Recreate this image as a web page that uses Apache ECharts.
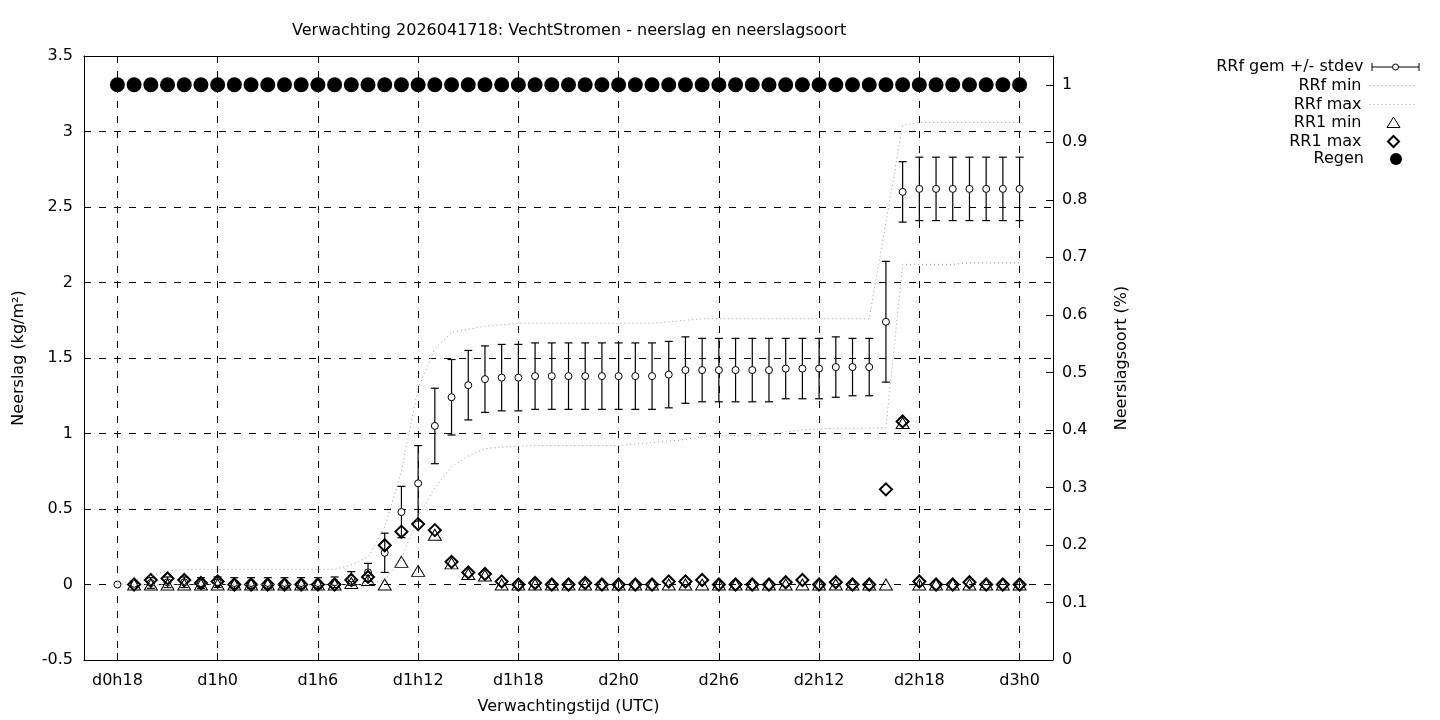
<!DOCTYPE html>
<html><head><meta charset="utf-8">
<script src="https://cdn.jsdelivr.net/npm/echarts@6/dist/echarts.min.js"></script>
<style>html,body{margin:0;padding:0;background:#fff}#c{width:1440px;height:720px}</style>
</head><body><div id="c"></div>
<script>
// hourly categories from d0h16 to d3h2 (axis runs 2 h beyond first/last data point)
const categories = [
 'd0h16','d0h17','d0h18','d0h19','d0h20','d0h21','d0h22','d0h23',
 'd1h0','d1h1','d1h2','d1h3','d1h4','d1h5','d1h6','d1h7','d1h8','d1h9','d1h10','d1h11',
 'd1h12','d1h13','d1h14','d1h15','d1h16','d1h17','d1h18','d1h19','d1h20','d1h21','d1h22','d1h23',
 'd2h0','d2h1','d2h2','d2h3','d2h4','d2h5','d2h6','d2h7','d2h8','d2h9','d2h10','d2h11',
 'd2h12','d2h13','d2h14','d2h15','d2h16','d2h17','d2h18','d2h19','d2h20','d2h21','d2h22','d2h23',
 'd3h0','d3h1','d3h2'
];
const tickLabels = ['d0h18','d1h0','d1h6','d1h12','d1h18','d2h0','d2h6','d2h12','d2h18','d3h0'];
const dataCategories = categories.slice(2, 57); // d0h18 .. d3h0

const rrfMean = [
 0, 0.005, 0.01, 0.015, 0.015, 0.01,
 0.015, 0.01, 0.01, 0.01, 0.01, 0.01,
 0.01, 0.015, 0.04, 0.08, 0.21, 0.48,
 0.67, 1.05, 1.24, 1.32, 1.36, 1.37,
 1.37, 1.38, 1.38, 1.38, 1.38, 1.38,
 1.38, 1.38, 1.38, 1.39, 1.42, 1.42,
 1.42, 1.42, 1.42, 1.42, 1.43, 1.43,
 1.43, 1.44, 1.44, 1.44, 1.74, 2.60,
 2.62, 2.62, 2.62, 2.62, 2.62, 2.62,
 2.62];
const rrfStd = [
 0, 0.015, 0.035, 0.035, 0.035, 0.035,
 0.035, 0.035, 0.035, 0.035, 0.035, 0.035,
 0.035, 0.035, 0.045, 0.06, 0.13, 0.17,
 0.25, 0.25, 0.25, 0.23, 0.22, 0.22,
 0.22, 0.22, 0.22, 0.22, 0.22, 0.22,
 0.22, 0.22, 0.22, 0.22, 0.22, 0.21,
 0.21, 0.21, 0.21, 0.21, 0.20, 0.20,
 0.20, 0.20, 0.19, 0.19, 0.40, 0.20,
 0.21, 0.21, 0.21, 0.21, 0.21, 0.21,
 0.21];
const rrfMin = [
 0, 0, 0, 0, 0, 0,
 0, 0, 0, 0, 0, 0,
 0, 0, 0, 0, 0.03, 0.17,
 0.45, 0.64, 0.78, 0.85, 0.90, 0.91,
 0.915, 0.92, 0.92, 0.92, 0.92, 0.92,
 0.92, 0.93, 0.94, 0.95, 0.96, 0.98,
 0.985, 0.985, 0.985, 0.99, 1.01, 1.025,
 1.03, 1.035, 1.035, 1.035, 1.04, 2.12,
 2.12, 2.12, 2.12, 2.13, 2.13, 2.13,
 2.13];
const rrfMax = [
 0, 0.03, 0.06, 0.09, 0.1, 0.1,
 0.1, 0.1, 0.1, 0.1, 0.1, 0.1,
 0.1, 0.1, 0.13, 0.18, 0.38, 0.75,
 1.3, 1.56, 1.67, 1.69, 1.71, 1.72,
 1.73, 1.73, 1.73, 1.73, 1.73, 1.73,
 1.73, 1.73, 1.73, 1.74, 1.75, 1.76,
 1.76, 1.76, 1.76, 1.76, 1.76, 1.76,
 1.76, 1.76, 1.76, 1.76, 2.40, 3.04,
 3.06, 3.06, 3.06, 3.06, 3.06, 3.06,
 3.06];
const rr1Min = [
 null, 0, 0, 0, 0, 0,
 0, 0, 0, 0, 0, 0,
 0, 0, 0.01, 0.03, 0, 0.15,
 0.09, 0.33, 0.14, 0.07, 0.06, 0,
 0, 0, 0, 0, 0, 0,
 0, 0, 0, 0, 0, 0,
 0, 0, 0, 0, 0, 0,
 0, 0, 0, 0, 0, 1.07,
 0, 0, 0, 0, 0, 0,
 0];
const rr1Max = [
 null, 0, 0.03, 0.04, 0.03, 0.01,
 0.02, 0, 0, 0, 0, 0,
 0, 0, 0.03, 0.05, 0.26, 0.35,
 0.40, 0.36, 0.15, 0.08, 0.07, 0.02,
 0, 0.01, 0, 0, 0.01, 0,
 0, 0, 0, 0.02, 0.02, 0.03,
 0, 0, 0, 0, 0.015, 0.03,
 0, 0.015, 0, 0, 0.63, 1.08,
 0.02, 0, 0, 0.015, 0, 0,
 0];
const regen = [
 1, 1, 1, 1, 1, 1,
 1, 1, 1, 1, 1, 1,
 1, 1, 1, 1, 1, 1,
 1, 1, 1, 1, 1, 1,
 1, 1, 1, 1, 1, 1,
 1, 1, 1, 1, 1, 1,
 1, 1, 1, 1, 1, 1,
 1, 1, 1, 1, 1, 1,
 1, 1, 1, 1, 1, 1,
 1];

const FONT = 'DejaVu Sans';
const FS = 16;
const pairs = arr => arr.map((v, i) => [dataCategories[i], v]).filter(p => p[1] !== null);
const isTick = (idx, val) => tickLabels.indexOf(val) >= 0;
const dotted = { color: '#a0a0a0', width: 1, type: [1, 3] };

const chart = echarts.init(document.getElementById('c'), null, { renderer: 'canvas' });

const legendRows = [
  { name: 'RRf gem +/- stdev', top: 59,
    icon: 'path://M0,0M48,12M0.5,2L0.5,10M47.5,2L47.5,10M0.5,6L21,6M27,6L47.5,6M27,6A3,3,0,1,1,21,6A3,3,0,1,1,27,6Z',
    itemStyle: { color: '#fff', borderColor: '#000', borderWidth: 1 } },
  { name: 'RRf min', top: 77, icon: 'path://M0,0M48,12M0,6L48,6',
    itemStyle: { color: 'none', borderColor: '#a0a0a0', borderWidth: 1, borderType: [1, 3] } },
  { name: 'RRf max', top: 96, icon: 'path://M0,0M48,12M0,6L48,6',
    itemStyle: { color: 'none', borderColor: '#a0a0a0', borderWidth: 1, borderType: [1, 3] } },
  { name: 'RR1 min', top: 114, icon: 'path://M0,0M48,12M24,0.5L30.5,11L17.5,11Z',
    itemStyle: { color: 'none', borderColor: '#000', borderWidth: 1 } },
  { name: 'RR1 max', top: 133, icon: 'path://M0,0M48,12M24,0.5L29.5,6L24,11.5L18.5,6Z',
    itemStyle: { color: 'none', borderColor: '#000', borderWidth: 2 } },
  { name: 'Regen', top: 151, icon: 'path://M0,0M48,12M30,6A6,6,0,1,1,18,6A6,6,0,1,1,30,6Z',
    itemStyle: { color: '#000', borderColor: '#000', borderWidth: 0 } }
];

const option = {
  animation: false,
  backgroundColor: '#fff',
  textStyle: { fontFamily: FONT, color: '#000' },
  title: {
    text: 'Verwachting 2026041718: VechtStromen - neerslag en neerslagsoort',
    left: 292, top: 23, padding: 0,
    textStyle: { fontFamily: FONT, fontSize: FS, fontWeight: 'normal', color: '#000' }
  },
  legend: legendRows.map(r => ({
    data: [{ name: r.name, icon: r.icon, itemStyle: r.itemStyle }],
    right: 20, top: r.top, padding: 0, orient: 'horizontal', align: 'right',
    itemWidth: 48, itemHeight: 12, selectedMode: false,
    textStyle: { fontFamily: FONT, fontSize: FS, color: '#000', padding: [0, 3, 0, 0] }
  })),
  grid: { left: 84, right: 387, top: 56, bottom: 60, containLabel: false, outerBoundsMode: 'none' },
  xAxis: [{
    type: 'category', data: categories, boundaryGap: false, position: 'bottom',
    name: 'Verwachtingstijd (UTC)', nameLocation: 'middle', nameGap: 39,
    nameTextStyle: { fontFamily: FONT, fontSize: FS, color: '#000' },
    axisLine: { show: true, onZero: false, lineStyle: { color: '#000', width: 1 } },
    axisTick: { show: true, inside: true, length: 7, interval: isTick, lineStyle: { color: '#000' } },
    axisLabel: { show: true, interval: isTick, margin: 13, fontFamily: FONT, fontSize: FS, color: '#000' },
    splitLine: { show: true, interval: isTick, lineStyle: { color: '#000', width: 1, type: [7, 8] } }
  }, {
    type: 'category', data: categories, boundaryGap: false, position: 'top',
    axisLine: { show: true, onZero: false, lineStyle: { color: '#000', width: 1 } },
    axisTick: { show: true, inside: true, length: 7, interval: isTick, lineStyle: { color: '#000' } },
    axisLabel: { show: false },
    splitLine: { show: false }
  }],
  yAxis: [{
    type: 'value', min: -0.5, max: 3.5, interval: 0.5, position: 'left',
    name: 'Neerslag (kg/m²)', nameLocation: 'middle', nameGap: 57, nameRotate: 90,
    nameTextStyle: { fontFamily: FONT, fontSize: FS, color: '#000' },
    axisLine: { show: true, onZero: false, lineStyle: { color: '#000', width: 1 } },
    axisTick: { show: true, inside: true, length: 7, lineStyle: { color: '#000' } },
    axisLabel: { margin: 11, fontFamily: FONT, fontSize: FS, color: '#000' },
    splitLine: { show: true, lineStyle: { color: '#000', width: 1, type: [7, 8] } }
  }, {
    type: 'value', min: 0, max: 1.05, interval: 0.1, position: 'right',
    name: 'Neerslagsoort (%)', nameLocation: 'middle', nameGap: 61, nameRotate: 90,
    nameTextStyle: { fontFamily: FONT, fontSize: FS, color: '#000' },
    axisLine: { show: true, onZero: false, lineStyle: { color: '#000', width: 1 } },
    axisTick: { show: true, inside: true, length: 7, lineStyle: { color: '#000' } },
    axisLabel: { margin: 9, showMaxLabel: false, fontFamily: FONT, fontSize: FS, color: '#000',
      formatter: v => (v > 1.001 ? '' : String(Math.round(v * 10) / 10)) },
    splitLine: { show: false }
  }],
  series: [
    {
      type: 'custom', name: 'RRf gem +/- stdev', xAxisIndex: 0, yAxisIndex: 0,
      data: rrfMean.map((m, i) => [dataCategories[i], m, rrfStd[i]]),
      encode: { x: 0, y: 1 },
      renderItem: function (params, api) {
        const x = api.value(0), m = api.value(1), s = api.value(2);
        if (!s) return { type: 'group', children: [] };
        const top = api.coord([x, m + s]);
        const bot = api.coord([x, m - s]);
        const hw = 4;
        const st = { stroke: '#000', lineWidth: 1.2 };
        return { type: 'group', children: [
          { type: 'line', shape: { x1: top[0], y1: top[1], x2: bot[0], y2: bot[1] }, style: st },
          { type: 'line', shape: { x1: top[0] - hw, y1: top[1], x2: top[0] + hw, y2: top[1] }, style: st },
          { type: 'line', shape: { x1: bot[0] - hw, y1: bot[1], x2: bot[0] + hw, y2: bot[1] }, style: st }
        ] };
      }
    },
    {
      type: 'scatter', name: 'RRf gem +/- stdev', xAxisIndex: 0, yAxisIndex: 0,
      data: pairs(rrfMean), symbol: 'circle', symbolSize: 7,
      itemStyle: { color: '#fff', borderColor: '#000', borderWidth: 1, opacity: 1 }
    },
    {
      type: 'line', name: 'RRf min', xAxisIndex: 0, yAxisIndex: 0,
      data: pairs(rrfMin), symbol: 'none', showSymbol: false, lineStyle: dotted, itemStyle: { color: '#a0a0a0' }
    },
    {
      type: 'line', name: 'RRf max', xAxisIndex: 0, yAxisIndex: 0,
      data: pairs(rrfMax), symbol: 'none', showSymbol: false, lineStyle: dotted, itemStyle: { color: '#a0a0a0' }
    },
    {
      type: 'scatter', name: 'RR1 min', xAxisIndex: 0, yAxisIndex: 0,
      data: pairs(rr1Min), symbol: 'triangle', symbolSize: [13, 11],
      itemStyle: { color: 'rgba(0,0,0,0)', borderColor: '#000', borderWidth: 1, opacity: 1 }
    },
    {
      type: 'scatter', name: 'RR1 max', xAxisIndex: 0, yAxisIndex: 0,
      data: pairs(rr1Max), symbol: 'diamond', symbolSize: 12,
      itemStyle: { color: 'rgba(0,0,0,0)', borderColor: '#000', borderWidth: 2, opacity: 1 }
    },
    {
      type: 'scatter', name: 'Regen', xAxisIndex: 0, yAxisIndex: 1,
      data: pairs(regen), symbol: 'circle', symbolSize: 15,
      itemStyle: { color: '#000', opacity: 1 }
    }
  ]
};
chart.setOption(option);
</script>
</body></html>
